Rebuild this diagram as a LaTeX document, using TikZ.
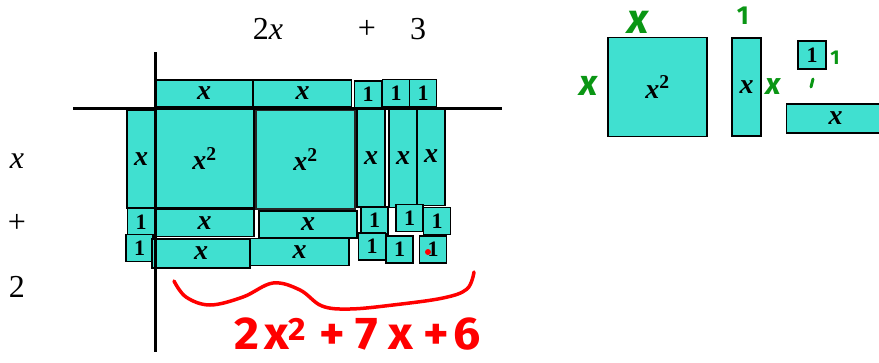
\documentclass[tikz,border=0pt]{standalone}
\usepackage{fontspec}
\setmainfont{Liberation Serif}
\newfontfamily\inkfont{Fira Sans}
\usetikzlibrary{positioning}
\definecolor{tileblue}{RGB}{64,224,208}
\definecolor{inkred}{RGB}{255,0,0}
\definecolor{inkgreen}{RGB}{10,150,20}

\begin{document}
\begin{tikzpicture}[
    x=1pt, y=-1pt,
    tile/.style={draw, line width=1.6pt, fill=tileblue, inner sep=0pt, font=\fontsize{28}{28}\selectfont\bfseries\itshape},
    xlong/.style={tile, minimum width=98pt, minimum height=27pt},
    xtall/.style={tile, minimum width=28pt, minimum height=98pt},
    sqtile/.style={tile, minimum width=99pt, minimum height=99pt},
    unit/.style={tile, minimum width=27pt, minimum height=27pt, font=\fontsize{22}{22}\selectfont\bfseries},
    factor/.style={font=\fontsize{32}{32}\selectfont},
    axis/.style={line width=3pt},
    redink/.style={draw=inkred, line width=3.5pt, line cap=round, line join=round},
    greenink/.style={text=inkgreen, inner sep=0pt, font=\inkfont\bfseries\itshape\fontsize{30}{30}\selectfont},
    greenline/.style={draw=inkgreen, line width=3pt, line cap=round}
  ]
    \useasboundingbox (0,0) rectangle (879,362);

    \node[factor] (topx) at (268,29) {2\textit{x}};
    \node[factor] (topplus) at (367,29) {+};
    \node[factor] (topthree) at (418,29) {3};
    \node[factor] (leftx) at (17,161) {\textit{x}};
    \node[factor] (leftplus) at (17,223) {+};
    \node[factor] (lefttwo) at (17,287) {2};

    \node[xlong] (topa) at (204,93.5) {x};
    \node[xlong] (topb) at (302.5,93.5) {x};
    \node[unit] (topc) at (368,94.5) {1};
    \node[unit] (topd) at (396,93) {1};
    \node[unit] (tope) at (423,93) {1};

    \node[xtall] (lefta) at (141,159) {x};
    \node[sqtile] (sqa) at (204.5,158.5) {x\textsuperscript{\upshape 2}};
    \node[sqtile, draw=black!85] (sqb) at (305.5,159.5) {x\textsuperscript{\upshape 2}};
    \node[xtall] (cola) at (371,158) {x};
    \node[xtall] (colb) at (403,158.5) {x};
    \node[xtall] (colc) at (431,156.5) {x};

    \node[unit] (rowaa) at (141,222) {1};
    \node[xlong, minimum width=99pt] (rowab) at (204.5,223) {x};
    \node[xlong] (rowac) at (308,224.5) {x};
    \node[unit] (rowad) at (374.5,220.5) {1};
    \node[unit] (rowae) at (409.5,218) {1};
    \node[unit] (rowaf) at (437,221) {1};

    \node[unit] (rowba) at (139.5,248) {1};
    \node[xlong, minimum height=29pt] (rowbb) at (201,253.5) {x};
    \node[xlong, minimum width=99pt] (rowbc) at (299.5,252) {x};
    \node[unit] (rowbd) at (372,246.5) {1};
    \node[unit] (rowbe) at (399.5,249.5) {1};
    \node[unit] (rowbf) at (433,249.5) {1};

    \draw[axis] (155,52) -- (155,352);
    \draw[axis] (73,108) -- (502,108);

    \fill[inkred] (428,252) circle (3pt);
    \draw[redink] plot[smooth, tension=0.6] coordinates {(174,281) (186,297) (210,305) (243,297) (273,283) (300,290) (322,306) (350,309) (393,305) (443,298) (467,289) (474,272)};
    \node[text=inkred, inner sep=0pt, xscale=1.05, font=\inkfont\bfseries\fontsize{46}{46}\selectfont] (poly) at (358,334) {2\hspace{4pt}x\textsuperscript{2}\hspace{12pt}+\hspace{10pt}7\hspace{10pt}x\hspace{10pt}+\hspace{4pt}6};

    \node[sqtile] (sqc) at (657.5,87) {x\textsuperscript{\upshape 2}};
    \node[xtall, minimum width=29pt] (cold) at (746.5,87) {x};
    \node[unit, minimum size=28pt] (unitc) at (812,55) {1};
    \node[xlong, minimum height=29pt] (rowc) at (835.5,118.5) {x};

    \node[greenink, font=\inkfont\bfseries\itshape\fontsize{42}{42}\selectfont] (gtop) at (638,22) {x};
    \node[greenink, font=\inkfont\bfseries\itshape\fontsize{36}{36}\selectfont] (gleft) at (589,86) {x};
    \node[greenink, font=\inkfont\bfseries\fontsize{26}{26}\selectfont] (gone) at (743,16) {1};
    \node[greenink] (gright) at (773,87) {x};
    \node[greenink, font=\inkfont\bfseries\fontsize{20}{20}\selectfont] (gtwo) at (835,58) {1};
    \draw[greenline] (813,79) -- (811,87);
  \end{tikzpicture}
\end{document}
